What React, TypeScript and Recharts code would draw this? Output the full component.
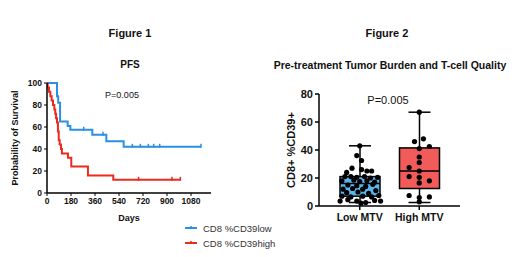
import React from 'react';
import {
  LineChart,
  Line,
  XAxis,
  YAxis,
  ComposedChart,
  Bar,
  Scatter,
  Label,
} from 'recharts';

const FONT = '"Liberation Sans", Arial, sans-serif';
const BLUE = '#2b8fe2';
const RED = '#ec2a20';

// Kaplan-Meier steps, figure 1 (days, % surviving, censored mark)
const lowTimes = [0, 75, 84, 98, 155, 175, 275, 340, 420, 445, 575, 640, 700, 760, 800, 845, 1155];
const lowSurv = [100, 88, 82, 65, 61, 57.5, 57.5, 53, 53, 47, 42, 42, 42, 42, 42, 42, 42];
const lowCensor = [0, 0, 0, 0, 0, 0, 1, 0, 1, 0, 0, 1, 1, 1, 1, 1, 1];

const highTimes = [0, 5, 15, 25, 35, 45, 55, 62, 68, 75, 82, 88, 95, 105, 112, 157, 182, 307, 497, 687, 937, 1000];
const highSurv = [100, 96, 92, 88, 84, 80, 76, 72, 68, 64, 56, 48, 44, 40, 36, 32, 24, 16, 12, 12, 12, 12];
const highCensor = [0, 0, 0, 0, 0, 0, 0, 0, 0, 0, 0, 0, 0, 0, 0, 0, 0, 0, 0, 1, 1, 1];

const dayTicks = [0, 180, 360, 540, 720, 900, 1080];
const survTicks = [0, 20, 40, 60, 80, 100];

// figure 2 box plots
const groups = ['Low MTV', 'High MTV'];
const boxMin = [2.5, 2.5];
const boxQ1 = [7, 12.5];
const boxMed = [16, 25];
const boxQ3 = [21, 41.5];
const boxMax = [43, 67];
const boxFill = ['#5ab6ea', '#f15c5a'];
const cdTicks = [0, 20, 40, 60, 80];

// individual points: [horizontal jitter in category units, value]
const lowPoints = [
  [0, 43], [-0.05, 36], [0.03, 32.5], [-0.13, 27], [0.03, 26], [0.12, 25], [0.2, 25], [-0.22, 24],
  [-0.25, 21], [-0.15, 21], [-0.05, 20.5], [0.08, 21], [0.18, 20], [0.3, 20.5],
  [-0.3, 18], [-0.1, 18.5], [0, 17.5], [0.12, 18], [0.25, 17],
  [-0.2, 15], [-0.05, 14.5], [0.1, 14], [0.22, 15.5],
  [-0.28, 12], [-0.12, 12.5], [0.05, 12], [0.27, 11],
  [-0.22, 9.5], [-0.03, 10], [0.15, 9],
  [-0.3, 7], [-0.15, 6.5], [0.05, 7], [0.2, 6.5], [0.32, 7.5],
  [-0.33, 3.5], [-0.2, 4.5], [-0.05, 3.5], [0.1, 2.5], [0.25, 4], [0.35, 3.5], [0.02, 2],
];
const highPoints = [
  [0, 67], [-0.08, 46], [0.07, 48], [0.17, 42.5], [0, 41], [0, 35], [0, 31], [-0.17, 27.5],
  [0, 25], [-0.17, 21], [0, 20.5], [0.17, 18], [0, 16.5], [-0.17, 7.5], [0.17, 6.5], [0, 6], [0, 3],
];

const kmData = (t: number[], s: number[], c: number[]) =>
  t.map((v, i) => ({ t: v, s: s[i], c: c[i] }));
const lowData = kmData(lowTimes, lowSurv, lowCensor);
const highData = kmData(highTimes, highSurv, highCensor);

const boxData = groups.map((name, i) => ({
  name,
  range: [boxMin[i], boxMax[i]],
  min: boxMin[i],
  q1: boxQ1[i],
  med: boxMed[i],
  q3: boxQ3[i],
  max: boxMax[i],
  fill: boxFill[i],
}));
const lowScatter = lowPoints.map(([dx, v]) => ({ x: 1 + dx, y: v }));
const highScatter = highPoints.map(([dx, v]) => ({ x: 2 + dx, y: v }));

const censorDot = (color: string) => (p: any) => {
  const { cx, cy, payload, index } = p;
  if (!payload.c) return <g key={index} />;
  return <line key={index} x1={cx} x2={cx} y1={cy - 3} y2={cy + 1} stroke={color} strokeWidth={1.5} />;
};

const BoxShape = (p: any) => {
  const { x, y, width, height, payload } = p;
  const span = payload.max - payload.min;
  const py = (v: number) => y + (height * (payload.max - v)) / span;
  const cx = x + width / 2;
  const cap = 11;
  return (
    <g>
      <line x1={cx} x2={cx} y1={py(payload.max)} y2={py(payload.min)} stroke='#000' strokeWidth={1.5} />
      <line x1={cx - cap} x2={cx + cap} y1={py(payload.max)} y2={py(payload.max)} stroke='#000' strokeWidth={1.5} />
      <line x1={cx - cap} x2={cx + cap} y1={py(payload.min)} y2={py(payload.min)} stroke='#000' strokeWidth={1.5} />
      <rect x={x} y={py(payload.q3)} width={width} height={py(payload.q1) - py(payload.q3)} fill={payload.fill} stroke='#000' strokeWidth={1.5} />
      <line x1={x} x2={x + width} y1={py(payload.med)} y2={py(payload.med)} stroke='#000' strokeWidth={1.5} />
    </g>
  );
};

const Txt = ({ x, y, size, bold, children }: any) => (
  <div
    style={{
      position: 'absolute',
      left: x,
      top: y,
      transform: 'translate(-50%, -50%)',
      fontFamily: FONT,
      fontSize: size,
      fontWeight: bold ? 700 : 400,
      color: '#111',
      whiteSpace: 'nowrap',
    }}
  >
    {children}
  </div>
);

const LegendRow = ({ y, color, label }: any) => (
  <div style={{ position: 'absolute', left: 184, top: y - 7, display: 'flex', alignItems: 'center', fontFamily: FONT, fontSize: 9.5, color: '#333' }}>
    <svg width={14} height={14}>
      <line x1={1} x2={13} y1={7} y2={7} stroke={color} strokeWidth={2} />
      <line x1={7} x2={7} y1={5} y2={8} stroke={color} strokeWidth={1.5} />
    </svg>
    <span style={{ marginLeft: 5 }}>{label}</span>
  </div>
);

const axisTick8 = { fontSize: 8.5, fontWeight: 700, fill: '#111', fontFamily: FONT };
const axisTick11 = { fontSize: 11, fontWeight: 700, fill: '#111', fontFamily: FONT };

export default function App() {
  return (
    <div style={{ position: 'absolute', left: 0, top: 0, width: 520, height: 257, background: '#fff' }}>
      <div style={{ position: 'absolute', left: 0, top: 0 }}>
        <LineChart width={260} height={257} margin={{ top: 83, right: 49, left: 0, bottom: 34 }}>
          <XAxis
            type='number'
            dataKey='t'
            domain={[0, 1230]}
            ticks={dayTicks}
            allowDataOverflow
            tick={axisTick8}
            tickSize={3}
            height={30}
            axisLine={{ stroke: '#000', strokeWidth: 1.5 }}
            tickLine={{ stroke: '#000', strokeWidth: 1 }}
          >
            <Label value='Days' position='insideBottom' offset={2} style={{ fontSize: 9, fontWeight: 700, fill: '#111', fontFamily: FONT }} />
          </XAxis>
          <YAxis
            domain={[0, 100]}
            ticks={survTicks}
            width={47}
            tick={axisTick8}
            tickSize={3}
            axisLine={{ stroke: '#000', strokeWidth: 1.5 }}
            tickLine={{ stroke: '#000', strokeWidth: 1 }}
          >
            <Label value='Probability of Survival' angle={-90} position='insideLeft' offset={15} style={{ textAnchor: 'middle', fontSize: 9, fontWeight: 700, fill: '#111', fontFamily: FONT }} />
          </YAxis>
          <Line data={lowData} dataKey='s' type='stepAfter' stroke={BLUE} strokeWidth={2} dot={censorDot(BLUE)} activeDot={false} isAnimationActive={false} />
          <Line data={highData} dataKey='s' type='stepAfter' stroke={RED} strokeWidth={2} dot={censorDot(RED)} activeDot={false} isAnimationActive={false} />
        </LineChart>
      </div>

      <div style={{ position: 'absolute', left: 260, top: 0 }}>
        <ComposedChart width={260} height={257} data={boxData} margin={{ top: 94, right: 60, left: 0, bottom: 21 }}>
          <XAxis
            dataKey='name'
            padding={{ left: 11, right: 11 }}
            height={30}
            tick={{ ...axisTick11, fontSize: 10.5 }}
            tickSize={4}
            tickMargin={4}
            axisLine={{ stroke: '#000', strokeWidth: 1.5 }}
            tickLine={{ stroke: '#000', strokeWidth: 1.5 }}
          />
          <XAxis xAxisId='jit' type='number' dataKey='x' domain={[0.5, 2.5]} padding={{ left: 11, right: 11 }} hide />
          <YAxis
            domain={[0, 80]}
            ticks={cdTicks}
            width={59}
            tick={axisTick11}
            tickSize={4}
            axisLine={{ stroke: '#000', strokeWidth: 1.5 }}
            tickLine={{ stroke: '#000', strokeWidth: 1.5 }}
          >
            <Label value='CD8+ %CD39+' angle={-90} position='insideLeft' offset={31} style={{ textAnchor: 'middle', fontSize: 11, fontWeight: 700, fill: '#111', fontFamily: FONT }} />
          </YAxis>
          <Bar dataKey='range' barSize={40} shape={BoxShape} isAnimationActive={false} />
          <Scatter xAxisId='jit' data={lowScatter} dataKey='y' fill='#000' shape={(p: any) => <circle cx={p.cx} cy={p.cy} r={2.6} fill='#000' />} isAnimationActive={false} />
          <Scatter xAxisId='jit' data={highScatter} dataKey='y' fill='#000' shape={(p: any) => <circle cx={p.cx} cy={p.cy} r={2.6} fill='#000' />} isAnimationActive={false} />
        </ComposedChart>
      </div>

      <Txt x={130} y={33} size={11} bold>Figure 1</Txt>
      <Txt x={387} y={33} size={11} bold>Figure 2</Txt>
      <Txt x={130} y={64} size={10} bold>PFS</Txt>
      <Txt x={390} y={65} size={10.5} bold>Pre-treatment Tumor Burden and T-cell Quality</Txt>
      <Txt x={122} y={95} size={9}>P=0.005</Txt>
      <Txt x={388} y={100} size={11}>P=0.005</Txt>

      <LegendRow y={228} color={BLUE} label='CD8 %CD39low' />
      <LegendRow y={243} color={RED} label='CD8 %CD39high' />
    </div>
  );
}
